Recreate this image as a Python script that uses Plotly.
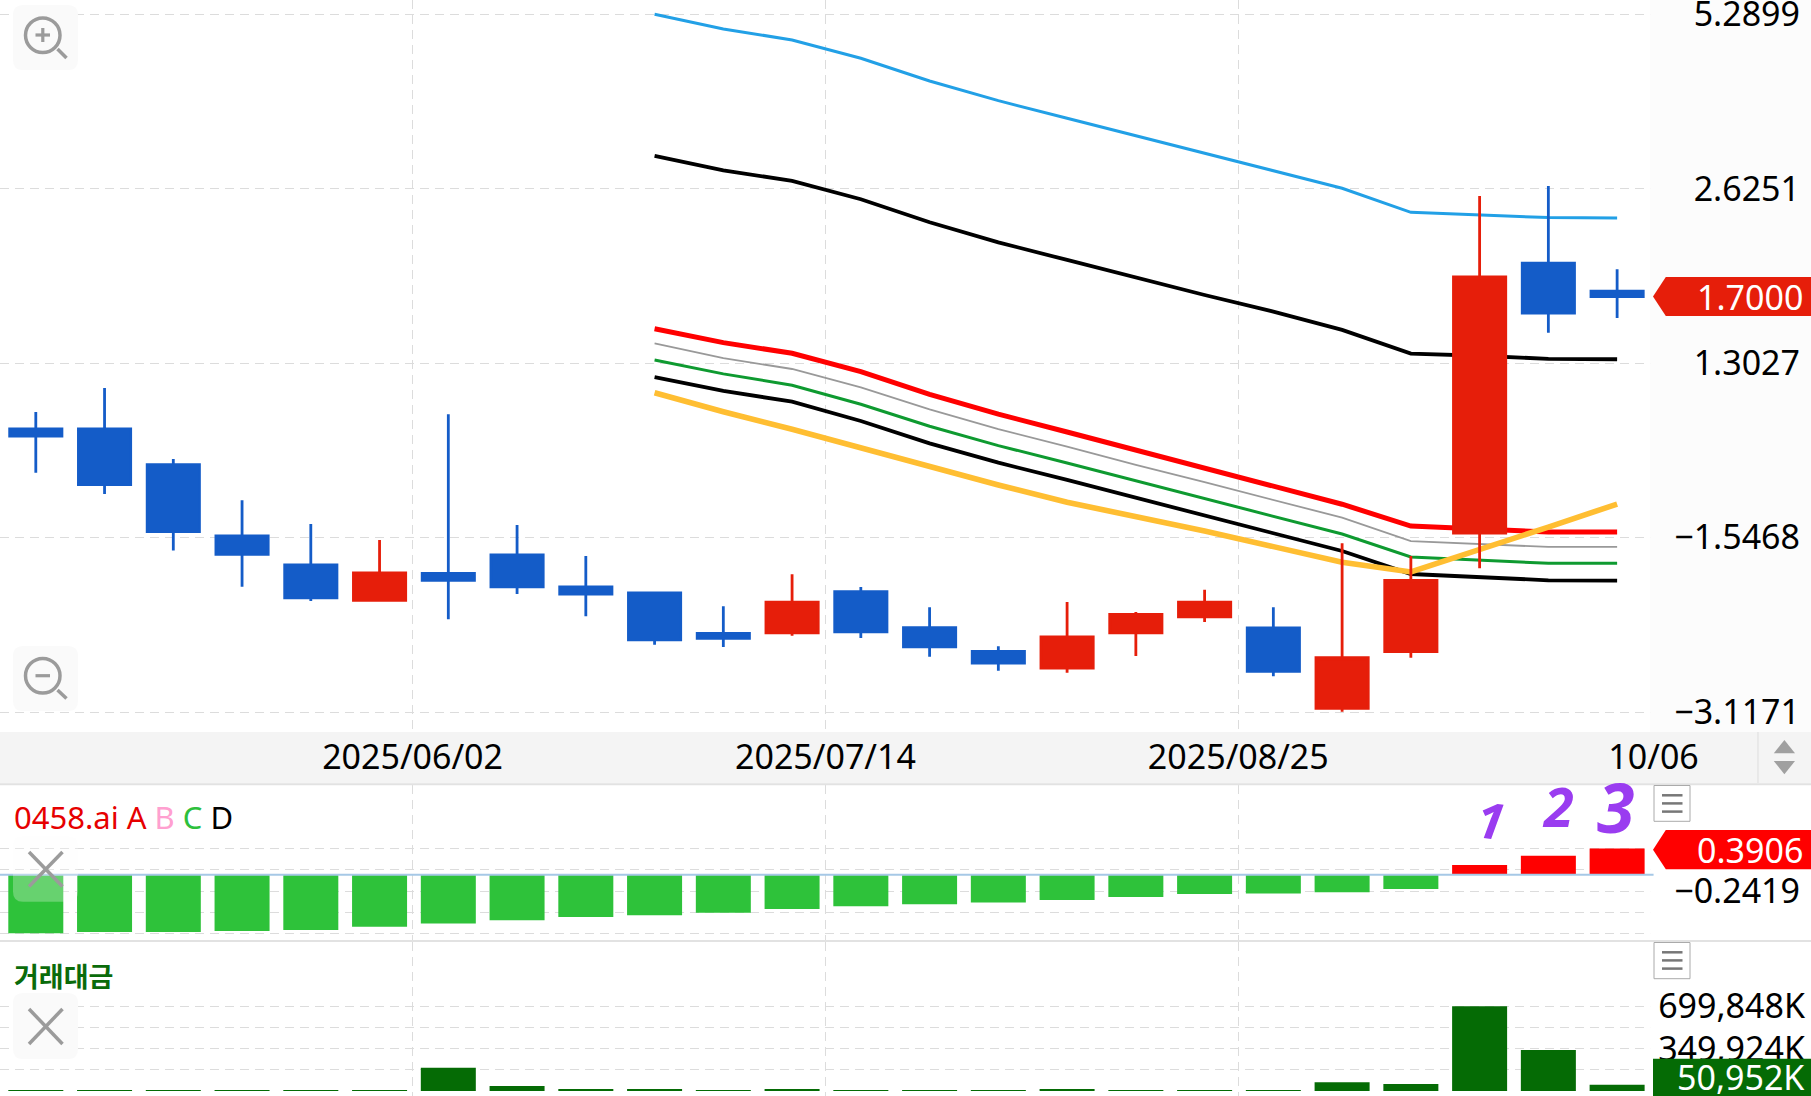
import plotly.graph_objects as go

W, H = 1811, 1096
FONT = "Noto Sans, Noto Sans CJK KR, sans-serif"

# ---------- data ----------
candle_idx = list(range(24))
# Price-pane values are in scale steps: the chart's own price scale is not linear,
# its five labelled levels are evenly spaced (0..4 = price_tick_text).
price_open = [1.622, 1.622, 1.418, 1.009, 0.843, 0.640, 0.795, 0.900, 0.717, 0.682, 0.451, 0.453,
              0.690, 0.483, 0.348, 0.252, 0.453, 0.546, 0.482, 0.021, 0.346, 1.026, 2.572, 2.412]
price_high = [1.720, 1.857, 1.450, 1.214, 1.078, 0.986, 1.707, 1.072, 0.894, 0.690, 0.606, 0.789,
              0.717, 0.600, 0.377, 0.631, 0.573, 0.701, 0.600, 0.967, 0.894, 2.958, 3.015, 2.538]
price_low = [1.372, 1.250, 0.925, 0.718, 0.636, 0.635, 0.531, 0.676, 0.549, 0.386, 0.373, 0.437,
             0.424, 0.317, 0.237, 0.225, 0.321, 0.516, 0.205, 0.002, 0.311, 0.824, 2.174, 2.259]
price_close = [1.582, 1.303, 1.034, 0.904, 0.655, 0.797, 0.755, 0.718, 0.676, 0.414, 0.422, 0.629,
               0.459, 0.373, 0.281, 0.430, 0.560, 0.629, 0.233, 0.311, 0.755, 2.494, 2.287, 2.381]

band_idx = list(range(9, 24))
band_blue = [3.999, 3.915, 3.852, 3.747, 3.617, 3.504, 3.403, 3.302, 3.203, 3.103, 3.002, 2.864, 2.849, 2.834, 2.832]
band_black_up = [3.187, 3.105, 3.044, 2.939, 2.807, 2.692, 2.591, 2.488, 2.390, 2.295, 2.190, 2.054, 2.042, 2.024, 2.022]
band_red = [2.197, 2.117, 2.056, 1.951, 1.821, 1.707, 1.605, 1.500, 1.397, 1.294, 1.191, 1.066, 1.051, 1.032, 1.032]
band_gray = [2.113, 2.028, 1.966, 1.861, 1.735, 1.621, 1.521, 1.416, 1.317, 1.215, 1.114, 0.980, 0.963, 0.946, 0.946]
band_green = [2.018, 1.938, 1.873, 1.764, 1.638, 1.527, 1.427, 1.326, 1.225, 1.124, 1.020, 0.889, 0.871, 0.852, 0.852]
band_black_low = [1.920, 1.840, 1.779, 1.668, 1.540, 1.429, 1.330, 1.228, 1.129, 1.024, 0.923, 0.791, 0.774, 0.755, 0.753]
band_yellow = [1.830, 1.721, 1.621, 1.512, 1.406, 1.301, 1.202, 1.121, 1.038, 0.948, 0.858, 0.803, 0.929, 1.060, 1.192]

ai_values = [-0.866, -0.848, -0.848, -0.833, -0.817, -0.768, -0.719, -0.674, -0.625, -0.600, -0.560, -0.506,
             -0.466, -0.436, -0.411, -0.373, -0.329, -0.284, -0.278, -0.258, -0.209, 0.144, 0.281, 0.3906]
turnover_k = [8000, 8000, 8000, 8000, 8000, 8000, 192500, 41300, 16500, 16500, 8000, 10000,
              8000, 7000, 7000, 16000, 7000, 7000, 7000, 71900, 57800, 699848, 338800, 50952]

price_tick_vals = [0, 1, 2, 3, 4]
price_tick_text = ["\u22123.1171", "\u22121.5468", "1.3027", "2.6251", "5.2899"]
date_tick_vals = [5.48, 11.485, 17.49, 23.53]
date_tick_text = ["2025/06/02", "2025/07/14", "2025/08/25", "10/06"]
ai_tick_vals = [0.3906, 0.0743, -0.2419, -0.5581, -0.8745]
ai_tick_text = ["", "", "\u22120.2419", "", ""]
turnover_tick_vals = [699848, 524886, 349924, 174962]
turnover_tick_text = ["699,848K", "", "349,924K", ""]

# ---------- colours ----------
RED_BODY, BLUE_BODY = "#E61E0A", "#145CC8"
GRID = "#dcdcdc"


def px(x):
    return x / W


def py(y):
    return 1 - y / H


def rrect(x0, y0, x1, y1, r, **kw):
    p = (f"M {px(x0+r)},{py(y0)} L {px(x1-r)},{py(y0)} Q {px(x1)},{py(y0)} {px(x1)},{py(y0+r)} "
         f"L {px(x1)},{py(y1-r)} Q {px(x1)},{py(y1)} {px(x1-r)},{py(y1)} "
         f"L {px(x0+r)},{py(y1)} Q {px(x0)},{py(y1)} {px(x0)},{py(y1-r)} "
         f"L {px(x0)},{py(y0+r)} Q {px(x0)},{py(y0)} {px(x0+r)},{py(y0)} Z")
    return dict(type="path", path=p, xref="paper", yref="paper", **kw)


def seg(x0, y0, x1, y1, color, width, layer="above"):
    return dict(type="line", xref="paper", yref="paper", x0=px(x0), y0=py(y0), x1=px(x1), y1=py(y1),
                line=dict(color=color, width=width), layer=layer)


def poly(points, color, layer="above"):
    p = "M " + " L ".join(f"{px(a)},{py(b)}" for a, b in points) + " Z"
    return dict(type="path", path=p, xref="paper", yref="paper", fillcolor=color,
                line=dict(width=0), layer=layer)


fig = go.Figure()

# moving lines
for ys, color, width in [(band_blue, "#22A0E6", 3.0), (band_black_up, "#000000", 3.8),
                         (band_red, "#FF0000", 5.0), (band_gray, "#999999", 1.8),
                         (band_green, "#0E9A30", 3.0), (band_black_low, "#000000", 3.8),
                         (band_yellow, "#FFBE32", 5.6)]:
    fig.add_trace(go.Scatter(x=band_idx, y=ys, mode="lines", line=dict(color=color, width=width),
                             xaxis="x", yaxis="y", showlegend=False, hoverinfo="skip"))

# candles sit on an overlaid copy of the price axes so that they draw above the lines
fig.add_trace(go.Candlestick(x=candle_idx, open=price_open, high=price_high, low=price_low, close=price_close,
                             increasing=dict(line=dict(color=RED_BODY, width=2.8), fillcolor=RED_BODY),
                             decreasing=dict(line=dict(color=BLUE_BODY, width=2.8), fillcolor=BLUE_BODY),
                             xaxis="x4", yaxis="y4", showlegend=False))

# 0458.ai histogram
fig.add_trace(go.Bar(x=candle_idx, y=ai_values, width=0.8,
                     marker=dict(color=["#FF0000" if v > 0 else "#2EC23A" for v in ai_values], line=dict(width=0)),
                     xaxis="x2", yaxis="y2", showlegend=False))
fig.add_trace(go.Scatter(x=[-0.6, 23.53], y=[0, 0], mode="lines", line=dict(color="#A6C8E6", width=2),
                         xaxis="x2", yaxis="y2", showlegend=False, hoverinfo="skip"))

# turnover
fig.add_trace(go.Bar(x=candle_idx, y=turnover_k, width=0.8, marker=dict(color="#056B05", line=dict(width=0)),
                     xaxis="x3", yaxis="y3", showlegend=False))

x_rng = [-0.5207, 25.82]
p_rng = [-0.1146, 4.081]
grid_x = dict(showgrid=True, gridcolor=GRID, griddash="9px,6px", gridwidth=1.2, tickmode="array",
              tickvals=date_tick_vals, ticks="", zeroline=False, showline=False, range=x_rng)
grid_y = dict(showgrid=True, gridcolor=GRID, griddash="9px,6px", gridwidth=1.2, tickmode="array",
              ticks="", zeroline=False, showline=False, side="right", ticklabelposition="inside",
              ticklabeloverflow="allow", tickfont=dict(family=FONT, size=34, color="#000000"))

layout = dict(
    width=W, height=H, margin=dict(l=0, r=0, t=0, b=0, pad=0, autoexpand=False), autosize=False,
    paper_bgcolor="#ffffff", plot_bgcolor="rgba(0,0,0,0)", showlegend=False, boxgap=0.24, boxgroupgap=0,
    font=dict(family=FONT),
    xaxis=dict(grid_x, domain=[0, 1], anchor="y", ticktext=date_tick_text,
               tickfont=dict(family=FONT, size=34, color="#000000"),
               rangeslider=dict(visible=False), ticklabelstandoff=2),
    yaxis=dict(grid_y, domain=[py(732), py(0)], anchor="x", range=p_rng,
               tickvals=price_tick_vals, ticktext=price_tick_text, ticklabelstandoff=8),
    xaxis2=dict(grid_x, domain=[0, 1], anchor="y2", matches="x", showticklabels=False),
    yaxis2=dict(grid_y, domain=[py(941), py(785)], anchor="x2", range=[-0.9797, 1.3305],
                tickvals=ai_tick_vals, ticktext=ai_tick_text, ticklabelstandoff=8),
    xaxis3=dict(grid_x, domain=[0, 1], anchor="y3", matches="x", showticklabels=False),
    yaxis3=dict(grid_y, domain=[py(1096), py(942)], anchor="x3", range=[-41300, 1231000],
                tickvals=turnover_tick_vals, ticktext=turnover_tick_text, ticklabelstandoff=3),
    xaxis4=dict(domain=[0, 1], anchor="y4", overlaying="x", matches="x", range=x_rng, visible=False,
                rangeslider=dict(visible=False)),
    yaxis4=dict(domain=[py(732), py(0)], anchor="x4", overlaying="y", matches="y", range=p_rng, visible=False),
)

ICON = "#9b9b9b"
shapes = [
    # right scale panels hide the grid between the plot and the labels
    dict(type="rect", xref="x", yref="y", x0=23.48, x1=25.82, y0=-0.1146, y1=4.081,
         fillcolor="#FCFCFC", line=dict(width=0), layer="between"),
    dict(type="rect", xref="x2", yref="y2", x0=23.48, x1=25.82, y0=-0.9797, y1=1.3305,
         fillcolor="#FFFFFF", line=dict(width=0), layer="between"),
    dict(type="rect", xref="x3", yref="y3", x0=23.48, x1=25.82, y0=-41300, y1=1231000,
         fillcolor="#FFFFFF", line=dict(width=0), layer="between"),
    # date band
    dict(type="rect", xref="paper", yref="paper", x0=0, x1=1, y0=py(783.5), y1=py(732),
         fillcolor="#F4F4F4", line=dict(width=0), layer="below"),
    seg(0, 784.3, W, 784.3, "#E2E2E2", 2),
    seg(0, 941, W, 941, "#E2E2E2", 2),
    seg(1758, 732, 1758, 783, "#DDDDDD", 1),
    poly([(1784.4, 740), (1795, 753.3), (1773.8, 753.3)], "#A0A0A0"),
    poly([(1773.8, 761), (1795, 761), (1784.4, 774.3)], "#A0A0A0"),
    # zoom buttons
    rrect(13, 5, 78, 70, 10, fillcolor="#FAFAFA", line=dict(width=0), layer="above"),
    dict(type="circle", xref="paper", yref="paper", x0=px(25.5), x1=px(60), y0=py(52.5), y1=py(18),
         line=dict(color=ICON, width=3.5), layer="above"),
    seg(35.5, 35, 50, 35, ICON, 3.2), seg(42.8, 28, 42.8, 42, ICON, 3.2),
    seg(57.5, 49, 66.5, 58, ICON, 3.5),
    rrect(13, 646, 78, 711, 10, fillcolor="#FAFAFA", line=dict(width=0), layer="above"),
    dict(type="circle", xref="paper", yref="paper", x0=px(25.5), x1=px(60), y0=py(693), y1=py(658.5),
         line=dict(color=ICON, width=3.5), layer="above"),
    seg(35.5, 675.7, 50, 675.7, ICON, 3.2),
    seg(57.5, 690, 66.5, 698.5, ICON, 3.5),
    # close buttons
    rrect(13, 836, 78, 901.7, 10, fillcolor="rgba(250,250,250,0.28)", line=dict(width=0), layer="above"),
    seg(29, 852, 62.5, 886.5, ICON, 3.5), seg(62.5, 852, 29, 886.5, ICON, 3.5),
    rrect(13, 993, 78, 1059, 10, fillcolor="#FAFAFA", line=dict(width=0), layer="above"),
    seg(29, 1009, 62.5, 1044, ICON, 3.5), seg(62.5, 1009, 29, 1044, ICON, 3.5),
    # menu buttons
    dict(type="rect", xref="paper", yref="paper", x0=px(1654), x1=px(1690), y0=py(821.3), y1=py(785.5),
         line=dict(color="#AAAAAA", width=1), fillcolor="#FFFFFF", layer="above"),
    seg(1662, 795.3, 1682.5, 795.3, "#777777", 2.5), seg(1662, 803.4, 1682.5, 803.4, "#777777", 2.5),
    seg(1662, 811.6, 1682.5, 811.6, "#777777", 2.5),
    dict(type="rect", xref="paper", yref="paper", x0=px(1654), x1=px(1690), y0=py(978.7), y1=py(942.5),
         line=dict(color="#AAAAAA", width=1), fillcolor="#FFFFFF", layer="above"),
    seg(1662, 952.3, 1682.5, 952.3, "#777777", 2.5), seg(1662, 960.4, 1682.5, 960.4, "#777777", 2.5),
    seg(1662, 968.6, 1682.5, 968.6, "#777777", 2.5),
    # price badges
    poly([(1653, 296.6), (1665.8, 277), (1811, 277), (1811, 316), (1665.8, 316)], "#E61E0A"),
    poly([(1653, 849.7), (1665.8, 830), (1811, 830), (1811, 869.3), (1665.8, 869.3)], "#FF0000"),
    poly([(1653, 1058.7), (1811, 1058.7), (1811, 1096), (1653, 1096)], "#056B05"),
]


def note(text, x, y, size, color="#000000", anchor="right", angle=0, family=FONT):
    return dict(text=text, xref="paper", yref="paper", x=px(x), y=py(y), xanchor=anchor, yanchor="middle",
                showarrow=False, font=dict(family=family, size=size, color=color), textangle=angle, borderpad=0)


annotations = [
    note("1.7000", 1804, 296.6, 34, "#FFFFFF"),
    note("0.3906", 1804, 849.7, 34, "#FFFFFF"),
    note("50,952K", 1806, 1077, 34, "#FFFFFF"),
    note('<span style="color:#E60000">0458.ai A</span> <span style="color:#FFA0D0">B</span> '
         '<span style="color:#2DC03C">C</span> <span style="color:#000000">D</span>', 13, 817, 31, anchor="left"),
    note("<b>거래대금</b>", 13, 975, 27, "#0A6B0A", anchor="left", family="Noto Sans CJK KR"),
    note("<b><i>1</i></b>", 1491, 820, 50, "#9A3CF0", anchor="center", angle=8),
    note("<b><i>2</i></b>", 1558, 806, 54, "#9A3CF0", anchor="center"),
    note("<b><i>3</i></b>", 1615, 807, 68, "#9A3CF0", anchor="center"),
]

fig.update_layout(**layout, shapes=shapes, annotations=annotations)
fig.write_html("out.html", config=dict(displayModeBar=False),
               post_script="document.body.style.margin='0';document.body.style.overflow='hidden';")
